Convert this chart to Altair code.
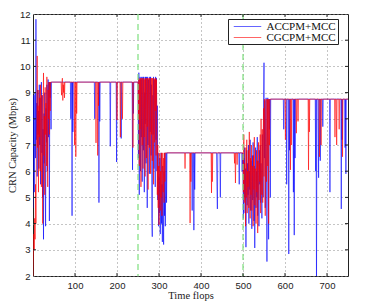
import altair as alt
import pandas as pd

series_names = ["ACCPM+MCC", "CGCPM+MCC"]
series_colors = ["#0000ff", "#ff0000"]
phase_lines = [250, 500]
x_ticks = [100, 200, 300, 400, 500, 600, 700]
y_ticks = [2, 3, 4, 5, 6, 7, 8, 9, 10, 11, 12]

# ---------------- ACCPM+MCC (blue) ----------------
acc_start_x0 = 0
acc_start_y = [4.6, 6.8, 8.9, 5.2, 7.9, 9.0, 6.5, 11.8, 7.2, 8.6, 5.8, 9.1, 7.4, 8.3, 6.1, 9.3,
               7.0, 8.8, 5.5, 8.1, 9.4, 6.7, 8.9, 5.0, 7.6, 3.4, 8.2, 6.3, 9.0, 5.9, 3.9, 8.4,
               7.1, 9.3, 6.0, 8.7, 9.5, 7.3, 9.4, 4.1, 9.4, 8.8, 9.4, 7.6, 9.4, 9.4]
acc_phase1 = [(46, 9.4), (89, 9.4), (90, 8.0), (91, 9.4), (92, 9.4), (93, 4.3), (94, 9.4), (95, 7.5),
              (96, 9.4), (146, 9.4), (147, 8.0), (148, 9.4), (156, 9.4), (157, 4.8), (158, 9.4),
              (159, 7.9), (160, 9.4), (183, 9.4), (184, 6.95), (185, 9.4), (198, 9.4), (199, 6.35),
              (200, 9.4), (209, 9.4), (210, 7.25), (211, 9.4), (236, 9.4), (237, 6.05), (238, 9.4),
              (239, 8.2), (240, 9.4), (249, 9.4)]
acc_mid_x0 = 250
acc_mid_y = [9.4, 6.5, 9.76, 5.1, 8.2, 9.6, 6.0, 9.5, 7.3, 9.6, 5.6, 8.8, 9.6, 6.8, 9.6, 5.2,
             9.0, 7.8, 9.6, 6.3, 9.6, 8.1, 4.6, 9.6, 7.0, 9.5, 8.4, 5.9, 9.6, 7.5, 9.6, 6.6,
             9.3, 4.2, 3.5, 8.9, 7.4, 9.6, 6.1, 9.5, 8.0, 5.4, 9.6, 7.2, 9.55, 6.0, 8.5, 4.9,
             6.7, 3.9, 5.8, 4.4, 6.5, 3.6, 5.2, 6.7, 4.0, 5.5, 3.3, 6.2, 4.6, 3.2, 6.0, 4.3,
             6.7, 3.9, 5.6, 6.7, 4.8, 6.7, 6.7]
acc_phase2 = [(321, 6.7), (378, 6.7), (379, 4.5), (380, 6.7), (382, 6.7), (383, 3.75), (384, 6.7),
              (385, 5.3), (386, 6.7), (437, 6.7), (438, 5.4), (439, 4.56), (440, 6.7), (445, 6.7),
              (446, 5.0), (447, 6.7), (490, 6.7), (491, 5.5), (492, 6.7), (497, 6.7), (498, 6.0),
              (499, 6.7)]
acc_late_x0 = 500
acc_late_y = [5.8, 4.2, 6.5, 5.0, 6.9, 4.4, 6.1, 3.1, 5.5, 6.8, 4.7, 6.3, 5.1, 7.0, 4.0, 6.0,
              5.3, 7.2, 4.5, 6.4, 5.6, 3.8, 6.6, 4.9, 7.1, 5.2, 4.1, 6.2, 3.07, 5.7, 6.9, 4.6,
              6.0, 5.0, 7.3, 4.3, 6.4, 5.4, 3.9, 6.8, 5.5, 7.0, 4.8, 6.3, 5.7, 4.2, 7.4, 6.1,
              5.0, 8.8, 10.14, 6.5, 8.7, 4.6, 7.5, 8.8, 5.9, 2.55, 7.0, 8.8, 6.2, 3.4, 8.75, 7.6,
              8.75, 5.0, 8.75]
acc_phase3 = [(567, 8.75), (596, 8.75), (597, 7.6), (598, 8.75), (603, 8.75), (604, 5.5), (605, 8.75),
              (608, 8.75), (609, 2.84), (610, 8.75), (611, 6.8), (612, 8.75), (619, 8.75), (620, 5.2),
              (621, 8.75), (622, 3.56), (623, 8.75), (624, 6.5), (625, 8.75), (672, 8.75), (673, 6.0),
              (674, 8.75), (675, 1.5), (676, 8.75), (679, 8.75), (680, 5.75), (681, 8.75), (683, 8.75),
              (684, 6.4), (685, 8.75), (689, 8.75), (690, 7.7), (691, 8.75), (706, 8.75), (707, 5.2),
              (708, 8.75), (733, 8.75), (734, 4.56), (735, 8.75), (736, 7.2), (737, 8.75), (742, 8.75),
              (743, 6.9), (744, 8.75), (745, 5.9), (746, 8.75), (750, 8.75)]

# ---------------- CGCPM+MCC (red) ----------------
cgc_start_x0 = 0
cgc_start_y = [2.0, 2.8, 3.6, 3.0, 4.2, 3.4, 5.5, 4.0, 6.8, 8.0, 10.4, 6.9, 8.5, 5.2, 9.1, 7.3,
               8.8, 6.0, 9.3, 7.6, 5.4, 8.9, 7.0, 4.0, 8.3, 9.75, 6.6, 8.1, 5.1, 9.2, 7.4, 8.6,
               6.2, 9.6, 7.8, 5.4, 9.1, 8.0, 9.4, 7.4, 9.4, 8.3]
cgc_phase1 = [(42, 9.4), (67, 9.4), (68, 8.9), (69, 9.4), (70, 9.55), (71, 8.7), (72, 9.3), (73, 9.0),
              (74, 9.4), (75, 8.8), (76, 9.4), (98, 9.4), (99, 7.0), (100, 9.4), (101, 9.4), (102, 6.55),
              (103, 9.4), (104, 8.2), (105, 9.4), (149, 9.4), (150, 7.08), (151, 9.4), (153, 9.4),
              (154, 6.6), (155, 9.4), (156, 8.5), (157, 9.4), (199, 9.4), (200, 7.95), (201, 9.4),
              (207, 9.4), (208, 7.3), (209, 9.4), (212, 9.4), (213, 8.0), (214, 9.4), (237, 9.4),
              (238, 6.9), (239, 9.4), (249, 9.4)]
cgc_mid_x0 = 250
cgc_mid_y = [9.4, 8.0, 9.55, 6.2, 9.5, 7.6, 9.55, 5.4, 8.9, 9.55, 7.0, 9.55, 6.1, 8.4, 9.55, 7.3,
             9.5, 5.8, 9.55, 8.2, 6.5, 9.55, 7.7, 9.55, 5.3, 9.0, 9.55, 6.9, 9.55, 8.0, 5.9, 9.55,
             7.4, 9.55, 6.4, 9.55, 8.6, 5.5, 9.55, 7.1, 9.5, 8.3, 9.55, 6.6, 9.5, 7.8, 5.1, 7.0,
             4.6, 6.2, 3.95, 5.7, 6.7, 4.5, 6.0, 5.0, 6.7, 4.3, 5.9, 6.7, 5.2, 6.5, 4.8, 6.7,
             5.6, 6.7, 6.7]
cgc_phase2 = [(317, 6.7), (361, 6.7), (362, 6.1), (363, 6.7), (373, 6.7), (374, 4.02), (375, 6.7),
              (376, 5.6), (377, 6.7), (424, 6.7), (425, 5.17), (426, 6.7), (427, 5.6), (428, 6.7),
              (479, 6.7), (480, 6.3), (481, 6.7), (482, 5.55), (483, 6.7), (485, 6.7), (486, 6.25),
              (487, 6.7), (499, 6.7)]
cgc_late_x0 = 500
cgc_late_y = [6.7, 5.2, 7.4, 4.8, 6.3, 5.6, 3.9, 6.9, 5.0, 7.2, 4.4, 6.0, 5.4, 6.8, 4.6, 7.5,
              5.7, 4.2, 6.5, 5.1, 7.0, 4.5, 6.2, 5.8, 3.9, 6.6, 5.3, 7.3, 4.7, 6.1, 5.5, 4.0,
              6.8, 5.2, 6.4, 3.64, 5.9, 7.1, 4.9, 6.3, 5.6, 7.4, 4.4, 8.0, 6.0, 5.1, 7.6, 4.8,
              6.9, 8.4, 5.8, 8.75, 6.4, 4.3, 8.0, 8.75, 5.6, 7.3, 8.75, 6.2, 8.75, 4.0, 8.75, 7.0,
              8.75]
cgc_phase3 = [(565, 8.75), (600, 8.75), (601, 7.2), (602, 8.75), (612, 8.75), (613, 6.05), (614, 8.75),
              (615, 7.0), (616, 8.75), (626, 8.75), (627, 7.45), (628, 8.75), (630, 8.75), (631, 7.9),
              (632, 8.75), (655, 8.75), (656, 6.05), (657, 8.75), (658, 7.5), (659, 8.75), (681, 8.75),
              (682, 6.55), (683, 8.75), (685, 8.75), (686, 7.0), (687, 8.75), (718, 8.75), (719, 7.3),
              (720, 8.75), (722, 8.75), (723, 7.0), (724, 8.75), (728, 8.75), (729, 7.6), (730, 8.75),
              (736, 8.75), (737, 6.55), (738, 8.75), (750, 8.75)]


def run(x0, ys):
    return [(x0 + i, y) for i, y in enumerate(ys)]


acc_pts = (run(acc_start_x0, acc_start_y) + acc_phase1 + run(acc_mid_x0, acc_mid_y)
           + acc_phase2 + run(acc_late_x0, acc_late_y) + acc_phase3)
cgc_pts = (run(cgc_start_x0, cgc_start_y) + cgc_phase1 + run(cgc_mid_x0, cgc_mid_y)
           + cgc_phase2 + run(cgc_late_x0, cgc_late_y) + cgc_phase3)

rows = []
for name, pts in [(series_names[0], acc_pts), (series_names[1], cgc_pts)]:
    for t, c in pts:
        rows.append({"t": t, "cap": c, "series": name})
df = pd.DataFrame(rows)

W, H = 315, 262
xs = alt.Scale(domain=[0, 750], nice=False, zero=False)
ys = alt.Scale(domain=[2, 12], nice=False, zero=False)

x_axis = alt.Axis(values=x_ticks, grid=True, gridDash=[1, 3], gridColor="#8a8a8a", gridWidth=1,
                  domain=False, ticks=False, labelFont="Liberation Sans", labelFontSize=9.5,
                  labelColor="#222", labelPadding=4, labelOverlap=False, title="Time flops",
                  titleFont="Liberation Serif", titleFontSize=10.5, titleFontWeight="normal",
                  titleColor="#222", titlePadding=1)
y_axis = alt.Axis(values=y_ticks, grid=True, gridDash=[1, 3], gridColor="#8a8a8a", gridWidth=1,
                  domain=False, ticks=False, labelFont="Liberation Sans", labelFontSize=9.5,
                  labelColor="#222", labelPadding=3, labelOverlap=False,
                  title="CRN Capacity (Mbps)",
                  titleFont="Liberation Serif", titleFontSize=10.5, titleFontWeight="normal",
                  titleColor="#222", titlePadding=1.5)

X = lambda f: alt.X(f, scale=xs, axis=x_axis, title="Time flops")
Y = lambda f: alt.Y(f, scale=ys, axis=y_axis, title="CRN Capacity (Mbps)")

lines = alt.Chart(df).mark_line(strokeWidth=1, opacity=0.6, clip=True).encode(
    x=X("t:Q"),
    y=Y("cap:Q"),
    color=alt.Color("series:N",
                    scale=alt.Scale(domain=series_names, range=series_colors),
                    legend=alt.Legend(orient="none", legendX=195, legendY=5, title=None,
                                      symbolType="M-2.5,0H2.5", symbolSize=121,
                                      symbolStrokeWidth=1, symbolOpacity=0.6,
                                      labelFont="Liberation Serif", labelFontSize=11,
                                      labelColor="#111", strokeColor="#222",
                                      fillColor="white", padding=1.5, rowPadding=0,
                                      symbolOffset=12, labelOffset=13)),
)

vdf = pd.DataFrame({"t": phase_lines})
vlines = alt.Chart(vdf).mark_rule(color="#7ee07e", strokeDash=[6, 4], strokeWidth=1.2).encode(
    x=X("t:Q")
)

xt = pd.DataFrame({"t": x_ticks})
yt = pd.DataFrame({"cap": y_ticks[1:-1]})
tick_style = dict(color="#222", strokeWidth=1)
bot_ticks = alt.Chart(xt).mark_rule(**tick_style).encode(
    x=X("t:Q"), y=alt.value(H), y2=alt.value(H - 3))
top_ticks = alt.Chart(xt).mark_rule(**tick_style).encode(
    x=X("t:Q"), y=alt.value(0), y2=alt.value(3))
left_ticks = alt.Chart(yt).mark_rule(**tick_style).encode(
    y=Y("cap:Q"), x=alt.value(0), x2=alt.value(3))
right_ticks = alt.Chart(yt).mark_rule(**tick_style).encode(
    y=Y("cap:Q"), x=alt.value(W), x2=alt.value(W - 3))

chart = alt.layer(lines, vlines, bot_ticks, top_ticks, left_ticks, right_ticks).properties(
    width=W, height=H,
    padding={"left": 25, "top": 6, "right": 33, "bottom": 34},
    autosize=alt.AutoSizeParams(type="none"),
    background="white",
).configure_view(stroke="#222", strokeWidth=1)

chart.save("out.html", embed_options={"renderer": "svg", "actions": False})
